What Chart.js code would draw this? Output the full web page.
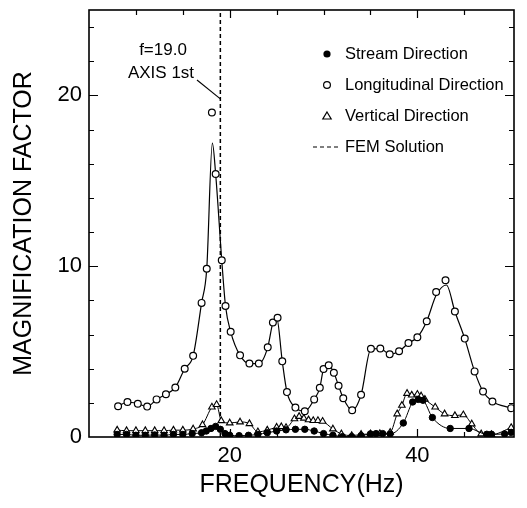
<!DOCTYPE html>
<html>
<head>
<meta charset="utf-8">
<script src="https://cdn.jsdelivr.net/npm/chart.js@4.4.1/dist/chart.umd.min.js"></script>
<style>
  html, body { margin: 0; padding: 0; background: #fff; }
  #wrap { width: 527px; height: 508px; }
</style>
</head>
<body>
<div id="wrap"><canvas id="chart"></canvas></div>
<script>
// Longitudinal direction (open circles), [Hz, factor]
const longMarkers = [
    [8.1, 1.8], [9.1, 2.05], [10.2, 1.95], [11.2, 1.78], [12.2, 2.2], [13.2, 2.5],
    [14.2, 2.9], [15.2, 4.0], [16.1, 4.75], [17.0, 7.85], [17.55, 9.85], [18.1, 19.0],
    [18.5, 15.4], [19.15, 10.35], [19.55, 7.67], [20.1, 6.16], [21.1, 4.78], [22.1, 4.3],
    [23.1, 4.3], [24.05, 5.25], [24.6, 6.7], [25.1, 6.98], [25.6, 4.43], [26.1, 2.63],
    [27.0, 1.72], [28.0, 1.51], [29.0, 2.2], [29.6, 2.88], [30.0, 3.98], [30.55, 4.2],
    [31.1, 3.76], [31.6, 3.0], [32.1, 2.27], [33.05, 1.57], [34.0, 2.47], [35.05, 5.16],
    [36.05, 5.18], [37.05, 4.84], [38.05, 5.02], [39.05, 5.5], [40.0, 5.84], [41.0, 6.78],
    [42.0, 8.49], [43.0, 9.18], [44.0, 7.35], [45.05, 5.76], [46.1, 3.84], [47.0, 2.66],
    [48.0, 2.08], [50.0, 1.69]
];

// fitted curve through the longitudinal points
const longCurve = [
    [8.1, 1.8], [9.1, 2.05], [10.2, 1.95], [11.2, 1.78], [12.2, 2.2], [13.2, 2.5],
    [14.2, 2.9], [15.2, 4.0], [16.1, 4.75], [17.0, 7.85], [17.55, 9.85], [18.15, 17.2],
    [18.5, 15.4], [19.15, 10.35], [19.55, 7.67], [20.1, 6.16], [21.1, 4.78], [22.1, 4.3],
    [23.1, 4.3], [24.05, 5.25], [24.6, 6.7], [25.0, 7.0], [25.6, 4.43], [26.1, 2.63],
    [27.0, 1.72], [28.0, 1.51], [29.0, 2.2], [29.6, 2.88], [30.0, 3.98], [30.55, 4.2],
    [31.1, 3.76], [31.6, 3.0], [32.1, 2.27], [33.05, 1.57], [34.0, 2.47], [35.05, 5.16],
    [36.05, 5.18], [37.05, 4.84], [38.05, 5.02], [39.05, 5.5], [40.0, 5.84], [41.0, 6.78],
    [42.0, 8.3], [43.1, 8.9], [44.0, 7.35], [45.05, 5.76], [46.1, 3.84], [47.0, 2.66],
    [48.0, 2.08], [50.0, 1.69]
];

// Stream direction (filled circles)
const streamMarkers = [
    [8, 0.15], [9, 0.15], [10, 0.1], [11, 0.1], [12, 0.12], [13, 0.1], [14, 0.15],
    [15, 0.15], [16, 0.2], [17, 0.25], [17.5, 0.35], [18, 0.5], [18.5, 0.62], [19, 0.45],
    [19.5, 0.2], [20, 0.1], [21, 0.08], [22, 0.1], [23, 0.15], [24, 0.25], [25, 0.35],
    [26, 0.42], [27, 0.45], [28, 0.45], [29, 0.35], [30, 0.2], [31, 0.1], [32, 0.02],
    [33, 0.02], [34, 0.08], [35, 0.18], [35.6, 0.2], [36.3, 0.2], [37.1, 0.18],
    [38.5, 0.82], [39.5, 2.05], [40.1, 2.2], [40.6, 2.15], [41.6, 1.14], [43.5, 0.5],
    [45.5, 0.5], [47.4, 0.16], [47.9, 0.16], [49.3, 0.18], [50, 0.27]
];

// Vertical direction (open triangles)
const vertMarkers = [
    [8, 0.4], [9, 0.37], [10, 0.37], [11, 0.37], [12, 0.37], [13, 0.37], [14, 0.4],
    [15, 0.4], [16.1, 0.47], [17.1, 0.72], [18.1, 1.75], [18.6, 1.9], [19.1, 0.95],
    [20.0, 0.82], [21.1, 0.88], [22.1, 0.78], [23.0, 0.3], [24.0, 0.4], [25.0, 0.57],
    [25.5, 0.6], [26.0, 0.55], [26.9, 1.06], [27.4, 1.2], [27.9, 1.1], [28.4, 1.0],
    [28.9, 0.96], [29.4, 0.96], [29.9, 0.92], [31.0, 0.47], [31.9, 0.18], [33.0, 0.08],
    [34.0, 0.15], [35.0, 0.18], [36.0, 0.2], [37.1, 0.27], [37.85, 1.35], [38.35, 1.85],
    [38.9, 2.55], [39.4, 2.45], [40.0, 2.5], [40.4, 2.4], [40.8, 2.2], [41.9, 1.75],
    [42.9, 1.35], [44.0, 1.25], [44.9, 1.3], [45.8, 0.76], [46.8, 0.18], [47.9, 0.14],
    [50.0, 0.55]
];

// FEM solution, first axis mode
const femFreq = 19.0;

// axes
const xTickValues = [10, 15, 20, 25, 30, 35, 40, 45];
const xTickLabels = [20, 40];
const yTickValues = [2, 4, 6, 8, 10, 12, 14, 16, 18, 20, 22, 24];
const yTickLabels = [0, 10, 20];

const legendItems = [
    { text: 'Stream Direction', kind: 'dot' },
    { text: 'Longitudinal Direction', kind: 'circle' },
    { text: 'Vertical Direction', kind: 'triangle' },
    { text: 'FEM Solution', kind: 'dash' }
];

const FONT = '"Liberation Sans", Arial, Helvetica, sans-serif';

const toXY = arr => arr.map(p => ({ x: p[0], y: p[1] }));

// frame with inward ticks on all four sides
const framePlugin = {
    id: 'frame',
    afterDatasetsDraw(chart) {
        const { ctx, chartArea: a, scales: { x, y } } = chart;
        ctx.save();
        ctx.strokeStyle = '#000';
        ctx.lineWidth = 1.6;
        ctx.strokeRect(a.left, a.top, a.right - a.left, a.bottom - a.top);
        ctx.lineWidth = 1.2;
        ctx.beginPath();
        xTickValues.forEach(v => {
            const px = Math.round(x.getPixelForValue(v)) + 0.5;
            const len = xTickLabels.includes(v) ? 8 : 5;
            ctx.moveTo(px, a.bottom); ctx.lineTo(px, a.bottom - len);
            ctx.moveTo(px, a.top); ctx.lineTo(px, a.top + len);
        });
        yTickValues.forEach(v => {
            const py = Math.round(y.getPixelForValue(v)) + 0.5;
            const len = yTickLabels.includes(v) ? 9 : 5;
            ctx.moveTo(a.left, py); ctx.lineTo(a.left + len, py);
            ctx.moveTo(a.right, py); ctx.lineTo(a.right - len, py);
        });
        ctx.stroke();
        ctx.restore();
    }
};

// legend inside the plot and the FEM annotation
const notePlugin = {
    id: 'notes',
    afterDraw(chart) {
        const { ctx, scales: { x, y } } = chart;
        ctx.save();
        ctx.fillStyle = '#000';
        ctx.strokeStyle = '#000';

        // legend
        ctx.font = '16.5px ' + FONT;
        ctx.textBaseline = 'middle';
        ctx.textAlign = 'left';
        const mx = 327, tx = 345;
        legendItems.forEach((item, i) => {
            const ly = 54 + i * 31;
            ctx.lineWidth = 1.2;
            if (item.kind === 'dot') {
                ctx.beginPath(); ctx.arc(mx, ly, 3.6, 0, Math.PI * 2); ctx.fill();
            } else if (item.kind === 'circle') {
                ctx.beginPath(); ctx.arc(mx, ly, 3.4, 0, Math.PI * 2); ctx.stroke();
            } else if (item.kind === 'triangle') {
                ctx.beginPath();
                ctx.moveTo(mx, ly - 4); ctx.lineTo(mx + 4.2, ly + 3); ctx.lineTo(mx - 4.2, ly + 3);
                ctx.closePath(); ctx.stroke();
            } else {
                ctx.setLineDash([4, 3]);
                ctx.beginPath(); ctx.moveTo(313, ly); ctx.lineTo(341, ly); ctx.stroke();
                ctx.setLineDash([]);
            }
            ctx.fillText(item.text, tx, ly);
        });

        // annotation
        ctx.font = '17px ' + FONT;
        ctx.textAlign = 'center';
        ctx.fillText('f=19.0', 163, 50);
        ctx.fillText('AXIS 1st', 161, 73);
        ctx.lineWidth = 1.1;
        ctx.beginPath();
        ctx.moveTo(197, 80);
        ctx.lineTo(x.getPixelForValue(femFreq), y.getPixelForValue(19.8));
        ctx.stroke();
        ctx.restore();
    }
};

const curveStyle = {
    showLine: true,
    pointRadius: 0,
    borderColor: '#000',
    borderWidth: 1.2,
    cubicInterpolationMode: 'monotone',
    order: 2
};

new Chart(document.getElementById('chart'), {
    type: 'scatter',
    data: {
        datasets: [
            {
                label: 'Stream Direction',
                data: toXY(streamMarkers),
                showLine: true,
                borderColor: '#000',
                borderWidth: 1,
                cubicInterpolationMode: 'monotone',
                pointStyle: 'circle',
                pointRadius: 3.2,
                pointBackgroundColor: '#000',
                pointBorderColor: '#000',
                order: 0
            },
            {
                label: 'Vertical Direction',
                data: toXY(vertMarkers),
                showLine: true,
                borderColor: '#000',
                borderWidth: 1,
                cubicInterpolationMode: 'monotone',
                pointStyle: 'triangle',
                pointRadius: 3.8,
                pointBackgroundColor: '#fff',
                pointBorderColor: '#000',
                pointBorderWidth: 1.1,
                order: 1
            },
            Object.assign({ label: 'curve', data: toXY(longCurve) }, curveStyle),
            {
                label: 'Longitudinal Direction',
                data: toXY(longMarkers),
                showLine: false,
                pointStyle: 'circle',
                pointRadius: 3.4,
                pointBackgroundColor: '#fff',
                pointBorderColor: '#000',
                pointBorderWidth: 1.2,
                order: 0
            },
            {
                label: 'FEM Solution',
                data: [{ x: femFreq, y: 0 }, { x: femFreq, y: 25 }],
                showLine: true,
                pointRadius: 0,
                borderColor: '#000',
                borderWidth: 1.5,
                borderDash: [4, 3],
                order: 3
            }
        ]
    },
    options: {
        responsive: true,
        maintainAspectRatio: false,
        animation: false,
        layout: { padding: { top: 10, right: 13, left: 0, bottom: 0 } },
        plugins: {
            legend: { display: false },
            tooltip: { enabled: false }
        },
        scales: {
            x: {
                type: 'linear',
                min: 5,
                max: 50.3,
                afterBuildTicks: scale => { scale.ticks = xTickValues.map(v => ({ value: v })); },
                afterFit: scale => {
                    scale.height = 71;
                    scale.paddingLeft = 0;
                    scale.paddingRight = 0;
                },
                grid: { display: false, drawTicks: false },
                border: { display: false },
                ticks: {
                    autoSkip: false,
                    maxRotation: 0,
                    padding: 6,
                    color: '#000',
                    font: { family: FONT, size: 22 },
                    callback: v => xTickLabels.includes(v) ? String(v) : ''
                },
                title: {
                    display: true,
                    text: 'FREQUENCY(Hz)',
                    color: '#000',
                    font: { family: FONT, size: 25 },
                    padding: { top: 0, bottom: 8 }
                }
            },
            y: {
                type: 'linear',
                min: 0,
                max: 25,
                afterBuildTicks: scale => { scale.ticks = [0].concat(yTickValues).map(v => ({ value: v })); },
                afterFit: scale => {
                    scale.width = 89;
                    scale.paddingTop = 0;
                    scale.paddingBottom = 0;
                },
                grid: { display: false, drawTicks: false },
                border: { display: false },
                ticks: {
                    autoSkip: false,
                    padding: 7,
                    color: '#000',
                    font: { family: FONT, size: 22 },
                    callback: v => yTickLabels.includes(v) ? String(v) : ''
                },
                title: {
                    display: true,
                    text: 'MAGNIFICATION FACTOR',
                    color: '#000',
                    font: { family: FONT, size: 25 },
                    padding: { top: 9, bottom: 0 }
                }
            }
        }
    },
    plugins: [framePlugin, notePlugin]
});
</script>
</body>
</html>
